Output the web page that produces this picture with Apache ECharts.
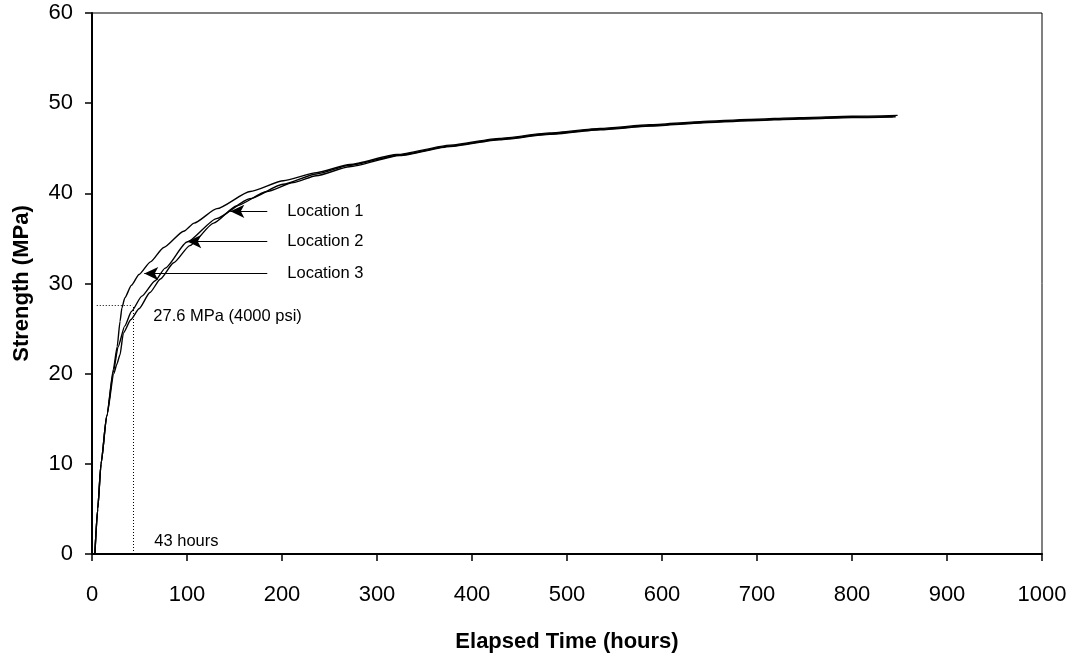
<!DOCTYPE html>
<html>
<head>
<meta charset="utf-8">
<script src="https://cdn.jsdelivr.net/npm/echarts@6/dist/echarts.min.js"></script>
<style>
  html, body { margin: 0; padding: 0; background: #fff; }
  #chart { width: 1077px; height: 658px; }
</style>
</head>
<body>
<div id="chart"></div>
<script>
// Strength gain of concrete at three monitoring locations (maturity readings)
const loc1Hours = [3, 6, 9.5, 15.5, 23, 26, 29.5, 33, 41, 49.5, 61, 72, 86, 103, 128, 152, 184, 212, 236, 271, 324, 377, 429, 482, 535, 587, 640, 691, 745, 800, 846];
const loc1Strength = [0, 5, 10, 15.3, 20.0, 21.0, 22.1, 24.5, 26.0, 27.2, 29.0, 30.5, 32.3, 34.2, 36.7, 38.6, 40.2, 41.2, 41.95, 42.95, 44.2, 45.2, 45.95, 46.55, 47.05, 47.45, 47.8, 48.05, 48.25, 48.4, 48.5];

const loc2Hours = [3, 6, 9.5, 15.5, 22.5, 27.5, 34.5, 41.5, 52.5, 66.5, 77, 100, 131, 166, 201, 236, 271, 324, 377, 429, 482, 535, 587, 640, 691, 745, 800, 843];
const loc2Strength = [0, 5, 10, 15.3, 20.2, 23.0, 25.3, 26.9, 28.6, 30.3, 31.7, 34.6, 37.2, 39.4, 41.0, 42.15, 43.1, 44.25, 45.25, 46.0, 46.6, 47.1, 47.5, 47.85, 48.1, 48.3, 48.45, 48.5];

const loc3Hours = [3, 6, 9.5, 15.5, 22.5, 26.5, 29.5, 31.5, 34.5, 41.5, 49.5, 61.5, 75.5, 96.5, 107.5, 131.5, 166.5, 201.5, 236.5, 271.5, 321, 377, 429, 482, 535, 587, 640, 691, 745, 800, 848];
const loc3Strength = [0, 5, 10, 15.3, 20.5, 23.0, 25.8, 27.3, 28.4, 29.8, 31.0, 32.4, 34.0, 35.8, 36.7, 38.3, 40.2, 41.4, 42.3, 43.2, 44.3, 45.35, 46.1, 46.7, 47.2, 47.6, 47.95, 48.2, 48.4, 48.55, 48.65];

const xTicks = { min: 0, max: 1000, step: 100 };
const yTicks = { min: 0, max: 60, step: 10 };

// Target strength and the time it was reached
const targetStrength = 27.6;
const targetHours = 43;

// Callout arrows: tip on each curve, common tail position
const calloutNames = ['Location 1', 'Location 2', 'Location 3'];
const calloutTips = [[145.6, 38.0], [100.3, 34.65], [55, 31.1]];
const calloutTailHours = 184.5;

// Free text anchors (data units)
const noteTexts = ['27.6 MPa (4000 psi)', '43 hours'];
const noteAnchors = [[64.5, 26.4], [65.6, 1.4]];

const FONT = '"Liberation Sans", Arial, Helvetica, sans-serif';
const zip = (xs, ys) => xs.map((x, i) => [x, ys[i]]);

const lineStyle = { color: '#000', width: 1.4 };
const curve = (name, xs, ys) => ({
  name, type: 'line', data: zip(xs, ys),
  showSymbol: false, smooth: 0.2, smoothMonotone: 'x',
  lineStyle, z: 5, silent: true, animation: false
});

const chart = echarts.init(document.getElementById('chart'), null, { renderer: 'canvas' });

chart.setOption({
  animation: false,
  backgroundColor: '#fff',
  textStyle: { fontFamily: FONT, color: '#000' },
  grid: {
    left: 92, right: 35, top: 13, bottom: 103,
    show: true, borderColor: '#000', borderWidth: 1, backgroundColor: 'transparent'
  },
  xAxis: {
    type: 'value', min: xTicks.min, max: xTicks.max, interval: xTicks.step,
    name: 'Elapsed Time (hours)', nameLocation: 'middle', nameGap: 77,
    nameTextStyle: { fontFamily: FONT, fontSize: 22, fontWeight: 'bold', color: '#000' },
    axisLine: { show: true, lineStyle: { color: '#000', width: 2 } },
    axisTick: { show: true, inside: false, length: 7, lineStyle: { color: '#000', width: 1.5 } },
    axisLabel: { fontFamily: FONT, fontSize: 22, color: '#000', margin: 30, formatter: v => String(v) },
    splitLine: { show: false }
  },
  yAxis: {
    type: 'value', min: yTicks.min, max: yTicks.max, interval: yTicks.step,
    name: 'Strength (MPa)', nameLocation: 'middle', nameGap: 59, nameRotate: 90,
    nameTextStyle: { fontFamily: FONT, fontSize: 22, fontWeight: 'bold', color: '#000' },
    axisLine: { show: true, lineStyle: { color: '#000', width: 2 } },
    axisTick: { show: true, inside: false, length: 7, lineStyle: { color: '#000', width: 1.5 } },
    axisLabel: { fontFamily: FONT, fontSize: 22, color: '#000', margin: 19, formatter: v => String(v) },
    splitLine: { show: false }
  },
  series: [
    curve(calloutNames[0], loc1Hours, loc1Strength),
    curve(calloutNames[1], loc2Hours, loc2Strength),
    Object.assign(curve(calloutNames[2], loc3Hours, loc3Strength), {
      markLine: {
        silent: true, animation: false,
        symbol: ['none', 'none'],
        lineStyle: { color: '#000', width: 1, type: [1, 2] },
        label: { show: false },
        data: [
          [{ coord: [5, targetStrength] }, { coord: [targetHours, targetStrength] }],
          [{ coord: [targetHours, 0] }, { coord: [targetHours, targetStrength] }]
        ]
      }
    }),
    {
      name: 'callouts', type: 'line', data: [], silent: true, animation: false,
      markLine: {
        silent: true, animation: false,
        symbol: ['arrow', 'none'], symbolSize: [10, 14],
        lineStyle: { color: '#000', width: 1.2, type: 'solid' },
        label: {
          show: true, position: 'end', distance: 20, formatter: '{b}',
          fontFamily: FONT, fontSize: 16.5, color: '#000'
        },
        data: calloutTips.map((tip, i) => [
          { name: calloutNames[i], coord: tip, symbol: 'arrow' },
          { coord: [calloutTailHours, tip[1]], symbol: 'none' }
        ])
      }
    },
    {
      name: 'notes', type: 'scatter', symbolSize: 0, silent: true, animation: false,
      itemStyle: { opacity: 1 },
      data: noteAnchors.map((p, i) => ({ value: p, name: noteTexts[i] })),
      label: {
        show: true, position: 'right', distance: 0, formatter: '{b}',
        fontFamily: FONT, fontSize: 16.5, color: '#000', opacity: 1
      }
    }
  ]
});
</script>
</body>
</html>
